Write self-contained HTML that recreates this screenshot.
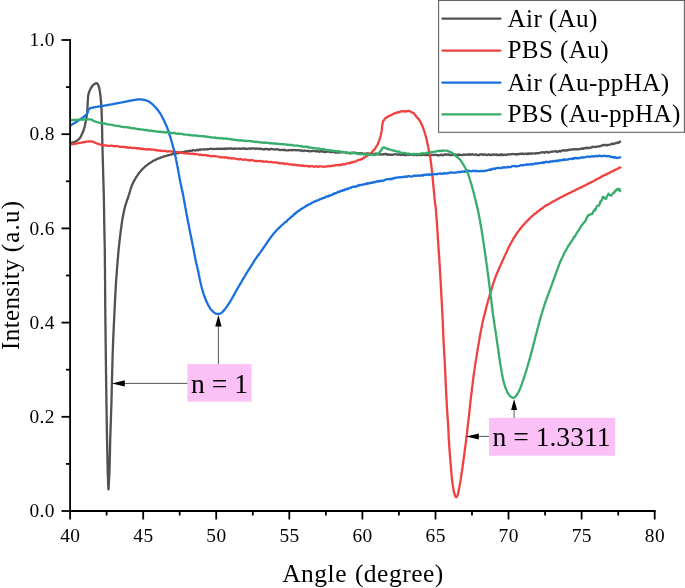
<!DOCTYPE html><html><head><meta charset="utf-8"><title>SPR</title><style>html,body{margin:0;padding:0;background:#fff;overflow:hidden}svg{display:block}text{font-family:"Liberation Serif","Times New Roman",serif;fill:#000}</style></head><body>
<svg width="685" height="588" viewBox="0 0 685 588">
<rect width="685" height="588" fill="#fff"/>
<path d="M70.0 143.2L71.0 142.9 72.0 142.7 73.0 142.4 74.0 142.1 75.0 141.7 75.9 141.2 76.9 140.7 77.7 140.1 78.6 139.5 79.3 138.8 79.9 138.1 80.4 137.3 80.8 136.5 81.2 135.7 81.6 134.8 82.0 134.0 82.4 133.1 82.8 132.2 83.2 131.3 83.5 130.4 83.8 129.4 84.1 128.5 84.4 127.5 84.6 126.6 84.9 125.6 85.1 124.6 85.3 123.6 85.5 122.7 85.7 121.7 85.9 120.7 86.1 119.7 86.2 118.8 86.4 117.8 86.6 116.8 86.7 115.8 86.9 114.8 87.0 113.9 87.1 112.9 87.2 111.9 87.3 110.9 87.4 109.9 87.4 108.9 87.5 107.9 87.5 107.0 87.6 106.0 87.6 105.0 87.6 104.0 87.7 103.0 87.8 102.0 87.8 101.0 87.8 100.0 87.9 99.0 88.0 98.0 88.0 97.1 88.2 96.1 88.3 95.1 88.5 94.1 88.8 93.1 89.1 92.1 89.5 91.1 89.9 90.2 90.3 89.3 90.8 88.4 91.3 87.5 91.9 86.6 92.5 85.8 93.2 85.1 94.0 84.4 94.8 83.8 96.3 83.1 97.2 83.6 97.9 84.5 98.3 85.3 98.7 86.2 99.0 87.1 99.2 88.0 99.4 89.0 99.6 90.1 99.8 91.2 100.0 92.2 100.1 93.3 100.2 94.3 100.4 95.3 100.5 96.3 100.6 97.3 100.7 98.3 100.8 99.3 100.9 100.3 101.0 101.3 101.1 102.3 101.1 103.2 101.2 104.2 101.3 105.2 101.3 106.1 101.4 107.1 101.4 108.0 101.5 109.0 101.5 110.0 101.6 110.9 101.6 111.9 101.6 112.8 101.7 113.7 101.7 114.7 101.7 115.6 101.8 116.5 101.8 117.4 101.8 118.4 101.9 119.3 101.9 120.2 101.9 121.1 101.9 122.0 102.0 123.0 102.0 123.9 102.0 124.8 102.0 125.7 102.1 126.7 102.1 127.6 102.1 128.5 102.1 129.4 102.1 130.3 102.2 131.3 102.2 132.2 102.2 133.1 102.2 134.0 102.2 135.0 102.2 135.9 102.2 136.8 102.2 137.7 102.3 138.7 102.3 139.6 102.3 140.5 102.3 141.4 102.3 142.3 102.4 143.2 102.4 144.1 102.4 145.0 102.4 145.9 102.5 146.8 102.5 147.7 102.5 148.6 102.5 149.5 102.5 150.4 102.6 151.3 102.6 152.2 102.6 153.1 102.6 154.0 102.7 154.9 102.7 155.9 102.7 156.8 102.7 157.7 102.8 158.6 102.8 159.5 102.8 160.4 102.8 161.3 102.9 162.2 102.9 163.1 102.9 164.0 102.9 164.9 103.0 165.8 103.0 166.7 103.0 167.6 103.0 168.5 103.1 169.4 103.1 170.3 103.1 171.2 103.1 172.1 103.2 173.0 103.2 173.9 103.2 174.8 103.2 175.7 103.3 176.6 103.3 177.5 103.3 178.4 103.3 179.3 103.4 180.2 103.4 181.1 103.4 182.0 103.5 182.9 103.5 183.8 103.5 184.7 103.5 185.6 103.6 186.5 103.6 187.4 103.6 188.3 103.6 189.2 103.7 190.1 103.7 191.0 103.7 191.9 103.7 192.8 103.8 193.7 103.8 194.6 103.8 195.5 103.8 196.4 103.8 197.3 103.9 198.2 103.9 199.1 103.9 200.0 103.9 200.9 103.9 201.8 103.9 202.7 104.0 203.6 104.0 204.5 104.0 205.4 104.0 206.3 104.0 207.2 104.0 208.1 104.0 209.0 104.1 209.9 104.1 210.8 104.1 211.8 104.1 212.7 104.1 213.6 104.1 214.5 104.1 215.4 104.1 216.3 104.2 217.2 104.2 218.1 104.2 219.0 104.2 219.9 104.2 220.8 104.2 221.7 104.2 222.6 104.3 223.5 104.3 224.4 104.3 225.3 104.3 226.2 104.3 227.1 104.3 228.0 104.4 228.9 104.4 229.8 104.4 230.7 104.4 231.6 104.4 232.5 104.4 233.5 104.5 234.4 104.5 235.3 104.5 236.2 104.5 237.1 104.5 238.0 104.6 238.9 104.6 239.8 104.6 240.7 104.6 241.6 104.6 242.5 104.7 243.4 104.7 244.3 104.7 245.2 104.7 246.2 104.7 247.1 104.7 248.0 104.8 248.9 104.8 249.8 104.8 250.7 104.8 251.6 104.8 252.5 104.8 253.4 104.8 254.3 104.8 255.2 104.8 256.1 104.9 257.1 104.9 258.0 104.9 258.9 104.9 259.8 104.9 260.7 104.9 261.6 104.9 262.5 104.9 263.4 104.9 264.3 104.9 265.3 104.9 266.2 104.9 267.1 105.0 268.0 105.0 268.9 105.0 269.8 105.0 270.7 105.0 271.6 105.0 272.5 105.0 273.4 105.0 274.4 105.0 275.3 105.0 276.2 105.0 277.1 105.0 278.0 105.0 278.9 105.0 279.8 105.1 280.7 105.1 281.6 105.1 282.6 105.1 283.5 105.1 284.4 105.1 285.3 105.1 286.2 105.1 287.1 105.1 288.0 105.1 288.9 105.1 289.8 105.1 290.8 105.1 291.7 105.1 292.6 105.1 293.5 105.2 294.4 105.2 295.3 105.2 296.2 105.2 297.1 105.2 298.0 105.2 298.9 105.2 299.9 105.2 300.8 105.2 301.7 105.2 302.6 105.2 303.5 105.2 304.4 105.2 305.3 105.2 306.2 105.3 307.1 105.3 308.1 105.3 309.0 105.3 309.9 105.3 310.8 105.3 311.7 105.3 312.6 105.3 313.5 105.3 314.4 105.3 315.3 105.3 316.2 105.4 317.1 105.4 318.0 105.4 318.9 105.4 319.8 105.4 320.7 105.4 321.7 105.4 322.6 105.4 323.5 105.4 324.4 105.4 325.3 105.5 326.2 105.5 327.1 105.5 328.0 105.5 328.9 105.5 329.8 105.5 330.7 105.5 331.6 105.5 332.5 105.5 333.4 105.5 334.3 105.6 335.2 105.6 336.1 105.6 337.0 105.6 337.9 105.6 338.8 105.6 339.7 105.6 340.6 105.6 341.6 105.6 342.5 105.7 343.4 105.7 344.3 105.7 345.2 105.7 346.1 105.7 347.0 105.7 347.9 105.7 348.8 105.7 349.7 105.7 350.6 105.8 351.5 105.8 352.4 105.8 353.3 105.8 354.2 105.8 355.1 105.8 356.0 105.8 356.9 105.8 357.8 105.8 358.7 105.9 359.6 105.9 360.5 105.9 361.5 105.9 362.4 105.9 363.3 105.9 364.2 105.9 365.1 105.9 366.0 106.0 366.9 106.0 367.8 106.0 368.7 106.0 369.6 106.0 370.5 106.0 371.4 106.0 372.3 106.0 373.2 106.0 374.1 106.1 375.0 106.1 375.9 106.1 376.8 106.1 377.8 106.1 378.7 106.1 379.6 106.1 380.5 106.1 381.4 106.2 382.3 106.2 383.2 106.2 384.1 106.2 385.0 106.2 385.9 106.2 386.8 106.2 387.7 106.2 388.6 106.3 389.5 106.3 390.4 106.3 391.4 106.3 392.3 106.3 393.2 106.3 394.1 106.3 395.0 106.3 395.9 106.4 396.8 106.4 397.7 106.4 398.6 106.4 399.5 106.4 400.4 106.4 401.3 106.4 402.2 106.4 403.1 106.5 404.0 106.5 404.9 106.5 405.9 106.5 406.8 106.5 407.7 106.5 408.6 106.5 409.5 106.6 410.4 106.6 411.3 106.6 412.2 106.6 413.1 106.6 414.0 106.6 414.9 106.6 415.8 106.7 416.7 106.7 417.6 106.7 418.5 106.7 419.5 106.7 420.4 106.7 421.3 106.7 422.2 106.8 423.1 106.8 424.0 106.8 424.9 106.8 425.8 106.8 426.7 106.8 427.6 106.8 428.5 106.9 429.4 106.9 430.3 106.9 431.2 106.9 432.1 106.9 433.0 106.9 433.9 107.0 434.8 107.0 435.7 107.0 436.6 107.0 437.5 107.0 438.4 107.0 439.3 107.1 440.2 107.1 441.1 107.1 442.0 107.1 442.9 107.1 443.8 107.1 444.7 107.2 445.6 107.2 446.5 107.2 447.4 107.2 448.4 107.2 449.3 107.3 450.2 107.3 451.1 107.3 452.0 107.3 452.9 107.3 453.8 107.4 454.7 107.4 455.6 107.4 456.5 107.4 457.4 107.4 458.3 107.5 459.2 107.5 460.1 107.5 461.0 107.5 461.9 107.5 462.8 107.6 463.7 107.6 464.6 107.6 465.5 107.6 466.4 107.6 467.3 107.7 468.2 107.7 469.1 107.7 470.0 107.7 470.9 107.7 471.8 107.8 472.7 107.8 473.6 107.8 474.5 107.9 475.4 107.9 476.3 107.9 477.3 108.0 478.2 108.0 479.1 108.0 480.0 108.1 480.9 108.1 481.8 108.1 482.7 108.2 483.6 108.2 484.5 108.2 485.6 108.3 486.9 108.4 488.1 108.4 489.0 108.5 489.3 108.6 489.0 108.6 488.1 108.7 486.9 108.7 485.6 108.8 484.5 108.8 483.6 108.9 482.7 108.9 481.8 109.0 480.9 109.0 480.0 109.1 479.1 109.1 478.2 109.2 477.3 109.2 476.3 109.3 475.4 109.3 474.5 109.4 473.6 109.4 472.7 109.4 471.8 109.5 470.9 109.5 470.0 109.5 469.1 109.6 468.2 109.6 467.2 109.6 466.3 109.6 465.4 109.7 464.5 109.7 463.5 109.7 462.6 109.7 461.7 109.7 460.8 109.8 459.9 109.8 458.9 109.8 458.0 109.8 457.1 109.9 456.2 109.9 455.2 109.9 454.3 109.9 453.4 109.9 452.5 110.0 451.6 110.0 450.6 110.0 449.7 110.0 448.8 110.0 447.9 110.0 446.9 110.1 446.0 110.1 445.1 110.1 444.2 110.1 443.3 110.2 442.3 110.2 441.4 110.2 440.5 110.2 439.6 110.2 438.6 110.3 437.7 110.3 436.8 110.3 435.9 110.4 435.0 110.4 434.0 110.4 433.1 110.4 432.2 110.5 431.3 110.5 430.4 110.5 429.4 110.6 428.5 110.6 427.6 110.6 426.7 110.7 425.8 110.7 424.8 110.7 423.9 110.8 423.0 110.8 422.1 110.8 421.2 110.9 420.2 110.9 419.3 110.9 418.4 110.9 417.5 111.0 416.6 111.0 415.7 111.0 414.7 111.1 413.8 111.1 412.9 111.1 412.0 111.2 411.1 111.2 410.1 111.2 409.2 111.3 408.3 111.3 407.4 111.3 406.5 111.3 405.5 111.4 404.6 111.4 403.7 111.4 402.8 111.5 401.9 111.5 400.9 111.5 400.0 111.5 399.1 111.5 398.2 111.6 397.2 111.6 396.3 111.6 395.4 111.6 394.5 111.7 393.6 111.7 392.6 111.7 391.7 111.7 390.8 111.7 389.9 111.8 388.9 111.8 388.0 111.8 387.1 111.8 386.2 111.8 385.3 111.9 384.3 111.9 383.4 111.9 382.5 111.9 381.6 111.9 380.6 112.0 379.7 112.0 378.8 112.0 377.9 112.0 377.0 112.1 376.0 112.1 375.1 112.1 374.2 112.1 373.3 112.2 372.3 112.2 371.4 112.2 370.5 112.2 369.6 112.3 368.7 112.3 367.8 112.3 366.9 112.3 366.0 112.4 365.0 112.4 364.1 112.4 363.2 112.4 362.3 112.5 361.4 112.5 360.5 112.5 359.6 112.5 358.7 112.6 357.8 112.6 356.9 112.6 355.9 112.7 355.0 112.7 354.1 112.7 353.2 112.7 352.3 112.8 351.4 112.8 350.5 112.8 349.6 112.9 348.7 112.9 347.8 112.9 346.8 113.0 345.9 113.0 345.0 113.0 344.1 113.1 343.2 113.1 342.3 113.1 341.4 113.2 340.5 113.2 339.6 113.2 338.7 113.3 337.8 113.3 336.9 113.4 336.0 113.4 335.1 113.4 334.2 113.5 333.3 113.5 332.4 113.6 331.5 113.6 330.6 113.6 329.7 113.7 328.8 113.7 327.9 113.8 327.0 113.8 326.1 113.8 325.2 113.9 324.3 113.9 323.4 114.0 322.5 114.0 321.6 114.1 320.7 114.1 319.8 114.1 318.9 114.2 318.0 114.2 317.1 114.3 316.2 114.3 315.3 114.4 314.4 114.4 313.5 114.5 312.6 114.5 311.7 114.5 310.8 114.6 309.9 114.6 309.0 114.7 308.1 114.7 307.2 114.8 306.3 114.8 305.4 114.8 304.5 114.9 303.6 114.9 302.7 115.0 301.8 115.0 300.9 115.1 300.0 115.1 299.1 115.1 298.2 115.2 297.3 115.2 296.4 115.3 295.5 115.3 294.6 115.4 293.7 115.4 292.8 115.5 291.9 115.5 291.0 115.6 290.1 115.6 289.2 115.7 288.3 115.7 287.4 115.8 286.5 115.8 285.6 115.9 284.7 115.9 283.8 116.0 282.9 116.0 282.0 116.1 281.1 116.2 280.2 116.2 279.3 116.3 278.3 116.4 277.4 116.4 276.5 116.5 275.6 116.6 274.7 116.6 273.7 116.7 272.8 116.8 271.9 116.8 271.0 116.9 270.1 117.0 269.1 117.1 268.2 117.1 267.3 117.2 266.4 117.3 265.5 117.4 264.5 117.4 263.6 117.5 262.7 117.6 261.8 117.7 260.9 117.7 259.9 117.8 259.0 117.9 258.1 118.0 257.2 118.1 256.3 118.1 255.3 118.2 254.4 118.3 253.5 118.4 252.6 118.5 251.7 118.5 250.7 118.6 249.8 118.7 248.9 118.8 248.0 118.9 247.0 119.0 246.1 119.1 245.2 119.2 244.3 119.3 243.3 119.4 242.4 119.5 241.5 119.6 240.6 119.7 239.6 119.8 238.7 119.9 237.7 120.0 236.8 120.2 235.8 120.3 234.9 120.4 233.9 120.5 233.0 120.6 232.0 120.7 231.1 120.9 230.1 121.0 229.2 121.1 228.2 121.3 227.3 121.4 226.3 121.5 225.4 121.6 224.4 121.8 223.5 121.9 222.5 122.1 221.6 122.2 220.6 122.3 219.7 122.5 218.7 122.7 217.8 122.8 216.8 123.0 215.9 123.2 215.0 123.4 214.0 123.6 213.1 123.8 212.1 124.0 211.2 124.2 210.3 124.4 209.3 124.6 208.4 124.9 207.5 125.1 206.5 125.3 205.6 125.6 204.7 125.9 203.8 126.2 202.8 126.5 201.9 126.8 201.0 127.1 200.1 127.4 199.2 127.8 198.3 128.1 197.3 128.4 196.4 128.7 195.5 129.0 194.6 129.2 193.8 129.5 192.9 129.8 192.0 130.0 191.1 130.3 190.3 130.5 189.4 130.8 188.5 131.1 187.7 131.4 186.8 131.7 185.9 132.1 185.0 132.5 184.1 132.9 183.2 133.3 182.3 133.8 181.4 134.3 180.6 134.7 179.7 135.2 178.9 135.7 178.0 136.2 177.2 136.7 176.4 137.3 175.6 137.8 174.8 138.3 174.0 138.9 173.2 139.5 172.4 140.1 171.7 140.7 171.0 141.3 170.3 142.0 169.6 142.6 168.9 143.3 168.3 144.0 167.6 144.7 167.0 145.4 166.3 146.1 165.7 146.8 165.2 147.6 164.6 148.3 164.0 149.1 163.5 149.9 162.9 150.8 162.4 151.7 161.9 152.5 161.3 153.4 160.8 154.3 160.4 155.2 159.9 156.1 159.5 156.9 159.1 157.8 158.7 158.7 158.4 159.6 158.1 160.5 157.7 161.4 157.4 162.3 157.1 163.3 156.7 164.2 156.4 165.1 156.1 166.1 155.8 167.0 155.5 168.0 155.3 168.9 155.1 169.8 154.9 170.8 154.7 171.7 154.4 172.6 154.2 173.5 154.1 174.4 153.9 175.4 153.7 176.3 153.5 177.2 153.3 178.1 153.1 179.1 153.0 180.0 152.7 180.9 152.4 181.8 152.6 182.7 151.9 183.6 152.1 184.5 151.8 185.4 151.4 186.3 151.6 187.2 151.1 188.1 151.2 189.0 150.8 189.9 150.6 190.8 150.8 191.8 150.9 192.7 150.2 193.6 150.2 194.5 150.4 195.4 150.6 196.3 150.2 197.2 149.9 198.1 150.3 199.0 149.5 199.9 150.1 200.8 149.5 201.7 149.4 202.6 149.3 203.5 149.4 204.4 149.7 205.3 149.1 206.3 149.4 207.2 149.4 208.1 149.1 209.0 149.2 209.9 148.8 210.8 148.7 211.7 148.8 212.6 149.2 213.5 148.9 214.4 148.8 215.3 149.0 216.2 148.8 217.2 148.7 218.1 149.0 219.0 148.9 219.9 148.6 220.8 148.8 221.7 148.7 222.6 149.0 223.5 148.9 224.4 148.5 225.4 149.0 226.3 148.3 227.2 148.6 228.1 148.8 229.0 148.3 230.0 148.6 230.9 148.2 231.8 148.7 232.7 148.8 233.7 148.6 234.6 148.9 235.5 148.4 236.4 148.7 237.3 148.6 238.3 148.6 239.2 148.5 240.1 148.8 241.0 148.9 241.9 148.5 242.9 148.7 243.8 148.2 244.7 148.8 245.6 148.7 246.5 149.0 247.5 148.9 248.4 148.5 249.3 148.6 250.2 148.8 251.2 148.3 252.1 148.7 253.0 148.4 253.9 148.4 254.8 148.4 255.8 149.0 256.7 148.5 257.6 148.6 258.5 148.7 259.4 149.1 260.3 148.5 261.2 148.9 262.1 149.0 263.0 149.3 263.9 149.2 264.8 149.3 265.7 148.9 266.6 149.0 267.5 149.0 268.4 149.5 269.3 149.6 270.2 149.0 271.1 149.0 272.0 149.1 272.9 149.2 273.8 149.4 274.7 149.5 275.6 149.3 276.5 149.2 277.4 149.5 278.3 149.5 279.2 149.7 280.1 150.1 281.0 149.9 281.9 149.8 282.8 150.0 283.7 150.1 284.6 149.6 285.5 150.3 286.4 150.3 287.3 150.4 288.2 150.4 289.1 150.1 290.0 150.1 290.9 149.9 291.8 150.4 292.7 150.0 293.6 150.0 294.5 150.2 295.4 150.2 296.3 150.3 297.3 150.2 298.2 150.1 299.1 150.3 300.0 150.3 300.9 150.6 301.8 150.3 302.7 151.0 303.6 150.9 304.5 150.5 305.4 150.7 306.3 150.8 307.2 150.8 308.1 150.7 309.0 151.3 309.9 151.4 310.8 151.1 311.8 151.1 312.7 150.8 313.6 150.9 314.5 151.1 315.4 151.1 316.3 151.6 317.2 151.1 318.1 151.0 319.0 151.8 319.9 151.5 320.8 151.2 321.7 151.6 322.6 151.2 323.5 151.6 324.4 152.0 325.3 152.0 326.3 151.9 327.2 151.6 328.1 151.7 329.0 151.6 329.9 152.1 330.8 152.0 331.7 152.2 332.6 151.8 333.5 151.8 334.4 152.4 335.3 152.6 336.2 152.5 337.2 152.5 338.1 152.6 339.0 152.5 339.9 152.0 340.8 152.4 341.7 152.2 342.6 152.0 343.5 152.0 344.4 152.3 345.4 152.3 346.3 152.8 347.2 153.1 348.1 152.6 349.0 153.2 349.9 153.3 350.8 153.3 351.7 152.7 352.6 152.6 353.5 152.7 354.5 152.7 355.4 152.7 356.3 153.2 357.2 153.5 358.1 153.5 359.0 153.2 359.9 153.4 360.8 153.6 361.7 152.9 362.7 153.5 363.6 153.8 364.5 153.7 365.4 153.7 366.3 153.5 367.2 153.3 368.1 153.9 369.0 153.5 369.9 154.0 370.8 154.2 371.8 153.7 372.7 153.7 373.6 154.3 374.5 154.1 375.4 153.6 376.3 153.6 377.2 153.7 378.1 154.5 379.0 154.4 380.0 153.8 380.9 154.5 381.8 154.7 382.7 154.4 383.6 154.1 384.5 154.3 385.4 153.9 386.3 153.9 387.2 154.8 388.2 154.6 389.1 154.5 390.0 154.9 390.9 154.4 391.8 154.9 392.7 154.9 393.6 154.3 394.5 154.3 395.4 154.4 396.4 154.4 397.3 154.7 398.2 154.4 399.1 154.6 400.0 154.3 400.9 155.1 401.8 154.6 402.7 154.7 403.6 154.8 404.5 155.2 405.5 154.7 406.4 155.2 407.3 154.8 408.2 154.9 409.1 154.9 410.0 154.4 410.9 154.8 411.8 154.5 412.7 154.4 413.6 155.2 414.5 154.6 415.5 154.9 416.4 155.1 417.3 155.0 418.2 154.7 419.1 154.9 420.0 155.0 420.9 155.2 421.8 154.5 422.7 155.0 423.6 154.7 424.5 154.7 425.5 155.2 426.4 154.9 427.3 155.0 428.2 155.2 429.1 155.3 430.0 154.9 430.9 155.0 431.8 154.9 432.7 154.9 433.6 155.1 434.5 154.9 435.5 154.9 436.4 154.9 437.3 155.3 438.2 155.1 439.1 155.3 440.0 155.3 440.9 154.6 441.8 154.9 442.7 155.3 443.6 155.2 444.5 154.5 445.5 154.5 446.4 154.8 447.3 154.4 448.2 154.6 449.1 154.4 450.0 155.0 450.9 155.1 451.8 155.2 452.7 154.5 453.6 155.0 454.5 155.0 455.5 154.4 456.4 155.2 457.3 155.3 458.2 154.5 459.1 155.2 460.0 154.7 460.9 154.8 461.8 155.2 462.7 155.1 463.6 154.4 464.5 154.7 465.5 154.8 466.4 154.6 467.3 154.4 468.2 154.5 469.1 154.9 470.0 154.2 470.9 154.8 471.8 154.7 472.7 154.2 473.6 154.5 474.5 154.8 475.5 154.7 476.4 154.3 477.3 155.2 478.2 155.0 479.1 155.2 480.0 154.3 480.9 154.5 481.8 154.2 482.7 155.0 483.6 154.5 484.5 154.3 485.4 154.6 486.3 155.1 487.3 155.1 488.2 154.5 489.1 154.4 490.0 155.2 490.9 154.8 491.8 155.0 492.7 154.4 493.6 154.3 494.5 155.0 495.4 154.7 496.3 154.4 497.2 155.2 498.1 154.9 499.0 155.1 500.0 154.4 500.9 155.1 501.8 154.3 502.7 155.1 503.6 154.7 504.5 154.6 505.4 154.8 506.3 155.1 507.2 154.4 508.1 154.3 509.0 154.7 509.9 154.3 510.8 154.2 511.7 154.2 512.7 154.0 513.6 154.2 514.5 154.2 515.4 154.2 516.3 154.6 517.2 154.1 518.1 154.3 519.0 153.9 519.9 154.0 520.8 153.6 521.7 153.8 522.6 153.5 523.5 154.2 524.4 154.0 525.4 153.5 526.3 153.8 527.2 154.2 528.1 153.3 529.0 154.0 529.9 153.5 530.8 153.5 531.7 153.8 532.6 153.3 533.5 153.3 534.4 153.5 535.3 153.7 536.2 153.0 537.1 153.4 538.0 153.2 538.9 153.1 539.8 152.8 540.7 152.7 541.6 152.3 542.5 152.3 543.4 152.2 544.4 152.8 545.3 152.2 546.2 152.0 547.1 151.9 548.0 152.6 548.9 152.5 549.8 152.2 550.7 151.8 551.6 151.6 552.5 151.6 553.4 151.7 554.3 151.3 555.2 151.5 556.1 151.2 557.0 151.8 557.9 151.8 558.8 151.2 559.7 150.9 560.6 151.5 561.5 150.7 562.4 150.7 563.3 150.2 564.2 150.5 565.2 150.5 566.1 150.5 567.0 150.1 567.9 150.3 568.8 149.7 569.7 149.8 570.6 149.5 571.5 149.7 572.4 149.3 573.3 149.2 574.2 149.3 575.1 149.2 576.0 149.4 576.9 149.2 577.9 149.4 578.8 149.2 579.7 149.1 580.6 149.2 581.5 148.5 582.4 148.4 583.3 148.9 584.2 148.0 585.1 148.4 586.0 148.2 587.0 147.5 587.9 148.1 588.8 148.1 589.8 147.7 590.7 147.6 591.6 147.5 592.6 146.7 593.5 147.0 594.4 146.8 595.3 147.0 596.3 146.8 597.2 146.7 598.1 146.3 599.1 146.4 600.0 146.1 601.0 146.0 602.0 145.4 602.9 145.1 603.9 145.0 604.9 145.1 605.9 144.8 606.9 145.4 607.8 144.9 608.8 144.8 609.7 144.7 610.6 144.5 611.4 144.1 612.3 143.5 613.2 144.1 614.1 143.8 615.0 143.4 615.8 143.2 616.7 143.1 617.6 142.3 618.5 142.8 619.3 142.1 620.2 141.7 621.1 141.7" fill="none" stroke="#515151" stroke-width="2.3" stroke-linejoin="round" stroke-linecap="butt"/>
<path d="M70.0 144.6L70.9 144.4 71.8 144.3 72.7 144.1 73.7 144.0 74.6 143.8 75.5 143.6 76.4 143.5 77.3 143.3 78.2 143.1 79.2 143.0 80.1 142.8 81.0 142.7 81.9 142.5 82.9 142.4 83.8 142.2 84.7 142.0 85.6 141.9 86.6 141.7 87.5 141.6 88.4 141.5 89.4 141.4 90.3 141.3 91.2 141.3 92.2 141.5 93.1 141.8 94.1 142.3 95.0 142.7 95.9 143.0 96.7 143.3 97.6 143.6 98.5 144.0 99.3 144.3 100.2 144.7 101.1 144.6 102.0 145.2 103.0 145.5 104.0 145.3 105.1 145.3 106.1 145.4 107.2 145.6 108.2 145.8 109.1 145.8 110.0 145.9 110.9 145.6 111.8 145.7 112.7 145.8 113.7 146.3 114.6 146.0 115.5 146.3 116.4 146.0 117.3 146.1 118.2 146.3 119.1 146.7 120.0 146.8 120.9 146.9 121.8 146.7 122.7 146.9 123.6 147.0 124.6 147.1 125.5 146.9 126.4 147.5 127.3 147.1 128.2 147.8 129.1 147.8 130.0 147.3 130.9 147.7 131.8 148.0 132.7 148.2 133.6 147.9 134.6 147.9 135.5 147.9 136.4 148.5 137.3 148.1 138.2 148.5 139.1 148.2 140.0 148.6 140.9 149.0 141.8 148.5 142.7 149.1 143.7 148.9 144.6 149.3 145.5 149.3 146.4 149.0 147.3 149.6 148.2 149.4 149.1 149.1 150.0 149.2 150.9 149.7 151.8 149.7 152.8 149.7 153.7 149.7 154.6 149.9 155.5 150.0 156.4 150.4 157.3 149.9 158.2 150.6 159.1 150.7 160.0 150.3 160.9 150.9 161.8 150.9 162.8 151.1 163.7 150.8 164.6 150.9 165.5 151.0 166.4 151.5 167.3 151.3 168.2 151.2 169.1 151.4 170.0 151.3 170.9 151.3 171.8 151.4 172.7 152.0 173.6 151.7 174.6 152.3 175.5 151.9 176.4 152.0 177.3 152.2 178.2 152.1 179.1 152.3 180.0 152.8 180.9 152.9 181.9 152.9 182.8 152.9 183.7 153.2 184.6 153.3 185.6 153.1 186.5 153.4 187.4 153.0 188.3 153.6 189.3 153.5 190.2 153.8 191.1 153.8 192.0 153.7 193.0 153.6 193.9 154.3 194.8 153.9 195.7 154.2 196.7 154.2 197.6 154.3 198.5 154.7 199.4 155.0 200.4 154.6 201.3 155.0 202.2 154.8 203.1 155.1 204.1 155.1 205.0 155.1 205.9 155.2 206.8 155.3 207.7 155.9 208.6 155.7 209.5 155.6 210.4 156.2 211.3 156.4 212.2 156.1 213.1 156.0 214.0 156.1 214.9 156.1 215.8 156.4 216.7 156.3 217.6 156.5 218.5 156.7 219.4 157.0 220.3 157.3 221.2 157.3 222.1 157.2 223.0 157.3 223.9 157.5 224.8 157.4 225.7 157.5 226.6 157.4 227.5 157.7 228.4 158.3 229.3 157.8 230.2 158.1 231.1 158.3 232.0 158.6 232.9 158.2 233.8 158.4 234.7 158.5 235.6 158.7 236.5 158.8 237.4 159.2 238.3 159.3 239.2 159.4 240.1 158.9 241.0 159.0 241.9 159.5 242.8 159.8 243.7 159.6 244.6 159.7 245.5 159.4 246.4 159.8 247.4 160.2 248.3 160.2 249.2 160.4 250.1 160.5 251.0 160.1 251.9 160.1 252.8 160.2 253.7 160.6 254.6 160.8 255.5 161.0 256.4 161.0 257.3 161.0 258.2 161.2 259.1 161.0 260.1 161.2 261.0 160.9 261.9 161.5 262.8 161.2 263.7 161.8 264.6 161.7 265.5 161.5 266.4 161.5 267.3 161.7 268.2 162.0 269.1 162.2 270.0 161.8 270.9 161.9 271.8 162.3 272.7 162.4 273.7 162.4 274.6 162.4 275.5 162.7 276.4 162.4 277.3 162.7 278.2 162.9 279.1 163.3 280.0 163.2 280.9 163.5 281.8 163.3 282.8 163.2 283.7 163.3 284.6 164.0 285.5 163.9 286.4 163.7 287.4 163.7 288.3 164.1 289.2 164.4 290.1 164.3 291.0 164.3 292.0 164.7 292.9 165.0 293.8 164.6 294.7 164.6 295.7 164.9 296.6 165.1 297.5 165.3 298.4 165.1 299.3 165.6 300.2 165.6 301.1 165.5 302.1 165.4 303.0 166.0 303.9 165.7 304.8 166.1 305.7 165.8 306.6 165.8 307.5 166.3 308.5 166.0 309.4 166.6 310.3 166.3 311.2 166.1 312.1 166.2 313.0 166.4 313.9 166.6 314.8 166.8 315.8 166.3 316.7 166.5 317.6 166.4 318.5 166.9 319.4 166.3 320.3 166.3 321.3 166.3 322.2 166.5 323.1 166.8 324.0 166.7 324.9 166.6 325.9 166.7 326.8 166.6 327.7 166.1 328.6 166.0 329.6 166.4 330.5 166.2 331.4 165.6 332.3 166.0 333.2 165.7 334.1 165.6 335.1 165.4 336.0 165.2 336.9 165.0 337.8 165.0 338.7 165.0 339.7 165.3 340.6 164.5 341.6 165.0 342.5 164.3 343.4 164.2 344.4 164.4 345.3 164.2 346.2 163.8 347.2 163.3 348.1 163.4 349.0 163.1 349.9 163.3 350.9 162.5 351.8 162.4 352.7 162.5 353.6 161.7 354.5 161.7 355.4 161.7 356.3 161.3 357.2 160.5 358.1 160.1 359.0 159.8 359.9 160.0 360.7 159.2 361.6 159.1 362.4 158.8 363.3 157.9 364.1 157.4 364.9 157.5 365.7 156.8 366.5 156.0 367.2 155.9 368.0 155.1 368.7 154.5 369.5 153.8 370.2 153.8 370.9 153.3 371.6 152.5 372.3 152.1 372.9 150.9 373.5 150.3 374.1 149.8 374.7 149.4 375.3 148.3 375.8 147.5 376.3 146.7 376.8 145.8 377.3 145.0 377.7 144.2 378.1 143.3 378.5 142.5 378.8 141.6 379.1 140.8 379.4 139.9 379.7 139.0 380.0 138.1 380.2 137.3 380.4 136.4 380.7 135.5 380.9 134.6 381.1 133.7 381.3 132.8 381.5 131.8 381.7 130.9 381.8 129.9 381.9 128.9 382.0 127.9 382.1 126.9 382.2 126.0 382.3 125.0 382.5 124.0 382.7 123.1 382.8 122.2 383.1 121.3 383.5 120.5 384.0 120.2 384.6 119.0 385.3 118.3 386.0 117.8 386.7 117.3 387.5 117.1 388.3 116.1 389.2 116.1 390.0 115.6 390.9 115.3 391.8 114.8 392.7 114.3 393.6 113.7 394.5 113.4 395.4 113.1 396.3 113.1 397.2 112.3 398.2 112.1 399.2 112.3 400.1 111.7 401.1 111.4 402.1 111.2 403.0 111.4 404.0 111.1 405.0 111.5 406.0 111.3 407.1 111.4 408.1 110.9 409.1 111.0 410.2 111.3 411.2 112.0 412.3 112.6 413.2 113.0 414.0 113.5 414.7 114.4 415.4 115.3 416.1 116.2 416.8 117.1 417.4 117.9 418.1 118.6 418.7 118.9 419.3 120.3 419.8 120.7 420.3 121.8 420.8 122.4 421.2 123.6 421.6 124.0 422.0 125.1 422.4 126.0 422.8 126.9 423.1 127.8 423.4 128.7 423.7 129.6 424.0 130.5 424.3 131.4 424.6 132.3 424.9 133.2 425.2 134.1 425.4 135.0 425.7 135.9 425.9 136.8 426.1 137.7 426.4 138.7 426.6 139.6 426.8 140.5 427.0 141.4 427.2 142.3 427.4 143.2 427.6 144.1 427.8 145.0 428.0 145.9 428.2 146.8 428.3 147.7 428.5 148.6 428.7 149.5 428.9 150.5 429.1 151.5 429.3 152.5 429.6 153.5 429.8 154.5 429.9 155.5 430.1 156.5 430.2 157.4 430.4 158.3 430.5 159.2 430.6 160.1 430.7 161.0 430.8 161.9 431.0 162.7 431.1 163.6 431.2 164.5 431.3 165.4 431.4 166.3 431.5 167.2 431.6 168.1 431.7 169.0 431.8 169.9 431.9 170.8 432.0 171.7 432.1 172.6 432.2 173.5 432.3 174.4 432.4 175.3 432.5 176.2 432.5 177.1 432.6 178.0 432.7 179.0 432.8 179.9 432.9 180.8 433.0 181.7 433.1 182.6 433.1 183.5 433.2 184.4 433.3 185.3 433.4 186.2 433.5 187.1 433.6 188.0 433.7 188.9 433.7 189.8 433.8 190.7 433.9 191.6 434.0 192.5 434.1 193.4 434.2 194.3 434.3 195.2 434.4 196.1 434.4 197.0 434.5 197.9 434.6 198.8 434.7 199.7 434.8 200.6 434.9 201.5 435.0 202.4 435.1 203.3 435.2 204.2 435.4 205.1 435.5 206.0 435.6 206.9 435.7 207.8 435.8 208.7 435.9 209.6 436.0 210.5 436.1 211.4 436.1 212.3 436.2 213.2 436.3 214.1 436.3 215.0 436.4 215.9 436.5 216.8 436.5 217.7 436.6 218.6 436.7 219.5 436.7 220.4 436.8 221.3 436.9 222.2 436.9 223.1 437.0 224.0 437.0 224.9 437.1 225.8 437.2 226.7 437.2 227.7 437.3 228.6 437.3 229.5 437.4 230.4 437.5 231.3 437.5 232.2 437.6 233.1 437.6 234.0 437.7 234.9 437.7 235.8 437.8 236.7 437.9 237.6 437.9 238.5 438.0 239.4 438.0 240.3 438.1 241.2 438.2 242.1 438.2 243.0 438.3 243.9 438.3 244.9 438.4 245.8 438.5 246.7 438.5 247.6 438.6 248.5 438.6 249.4 438.7 250.4 438.8 251.3 438.8 252.2 438.9 253.1 439.0 254.0 439.0 254.9 439.1 255.8 439.1 256.8 439.2 257.7 439.3 258.6 439.3 259.5 439.4 260.4 439.4 261.3 439.5 262.3 439.5 263.2 439.6 264.1 439.7 265.0 439.7 265.9 439.8 266.8 439.8 267.8 439.9 268.7 439.9 269.6 440.0 270.5 440.1 271.4 440.1 272.3 440.2 273.2 440.2 274.1 440.3 275.0 440.3 276.0 440.4 276.9 440.4 277.8 440.5 278.7 440.5 279.6 440.6 280.5 440.6 281.4 440.7 282.3 440.7 283.2 440.8 284.1 440.8 285.0 440.9 286.0 440.9 286.9 441.0 287.8 441.0 288.7 441.1 289.6 441.1 290.5 441.2 291.4 441.2 292.3 441.3 293.2 441.3 294.1 441.4 295.0 441.4 296.0 441.5 296.9 441.5 297.8 441.6 298.7 441.6 299.6 441.7 300.5 441.7 301.4 441.8 302.3 441.8 303.2 441.9 304.1 441.9 305.0 442.0 306.0 442.0 306.9 442.1 307.8 442.1 308.7 442.2 309.6 442.2 310.5 442.2 311.4 442.3 312.3 442.3 313.2 442.4 314.1 442.4 315.0 442.5 315.9 442.5 316.8 442.5 317.7 442.6 318.6 442.6 319.5 442.7 320.4 442.7 321.3 442.7 322.2 442.8 323.1 442.8 324.0 442.9 324.9 442.9 325.8 442.9 326.8 443.0 327.7 443.0 328.6 443.1 329.5 443.1 330.4 443.1 331.3 443.2 332.2 443.2 333.1 443.3 334.0 443.3 334.9 443.3 335.8 443.4 336.7 443.4 337.6 443.5 338.5 443.5 339.4 443.6 340.3 443.6 341.2 443.6 342.1 443.7 343.0 443.7 343.9 443.8 344.8 443.8 345.7 443.9 346.6 443.9 347.5 444.0 348.4 444.0 349.3 444.1 350.2 444.1 351.1 444.2 352.0 444.2 352.9 444.3 353.8 444.3 354.7 444.4 355.6 444.4 356.5 444.5 357.4 444.5 358.3 444.6 359.2 444.6 360.1 444.7 361.0 444.7 361.9 444.8 362.8 444.8 363.7 444.9 364.6 444.9 365.5 444.9 366.4 445.0 367.3 445.0 368.2 445.1 369.1 445.1 370.1 445.2 371.0 445.2 371.9 445.3 372.8 445.3 373.7 445.3 374.6 445.4 375.5 445.4 376.4 445.5 377.3 445.5 378.2 445.5 379.2 445.6 380.1 445.6 381.0 445.7 381.9 445.7 382.8 445.8 383.7 445.8 384.6 445.8 385.5 445.9 386.4 445.9 387.4 446.0 388.3 446.0 389.2 446.1 390.1 446.1 391.0 446.1 391.9 446.2 392.9 446.2 393.8 446.3 394.7 446.3 395.7 446.4 396.6 446.4 397.5 446.5 398.5 446.5 399.4 446.6 400.3 446.6 401.3 446.7 402.2 446.7 403.1 446.8 404.0 446.8 405.0 446.9 405.9 446.9 406.8 447.0 407.8 447.0 408.7 447.1 409.6 447.1 410.6 447.2 411.5 447.3 412.4 447.3 413.4 447.4 414.3 447.5 415.2 447.5 416.2 447.6 417.1 447.7 418.0 447.7 419.0 447.8 419.9 447.9 420.8 448.0 421.8 448.0 422.7 448.1 423.6 448.1 424.6 448.2 425.5 448.3 426.4 448.3 427.4 448.3 428.3 448.4 429.2 448.4 430.2 448.5 431.1 448.5 432.1 448.5 433.0 448.6 433.9 448.6 434.9 448.7 435.8 448.7 436.8 448.7 437.7 448.8 438.6 448.8 439.6 448.9 440.5 449.0 441.4 449.0 442.4 449.1 443.3 449.1 444.2 449.2 445.1 449.3 446.1 449.3 447.0 449.4 447.9 449.5 448.8 449.5 449.8 449.6 450.7 449.7 451.6 449.7 452.6 449.8 453.5 449.9 454.4 450.0 455.3 450.0 456.3 450.1 457.2 450.2 458.1 450.3 459.0 450.3 460.0 450.4 460.9 450.5 461.8 450.5 462.7 450.6 463.7 450.7 464.6 450.8 465.5 450.8 466.4 450.9 467.3 451.0 468.3 451.1 469.2 451.1 470.1 451.2 471.0 451.3 471.9 451.4 472.9 451.5 473.8 451.5 474.7 451.6 475.6 451.7 476.5 451.8 477.5 451.9 478.4 452.0 479.3 452.1 480.2 452.2 481.2 452.3 482.1 452.5 483.1 452.6 484.0 452.7 484.9 452.9 485.9 453.0 486.8 453.2 487.7 453.3 488.7 453.5 489.6 453.7 490.6 453.9 491.7 454.1 492.7 454.4 493.7 454.7 494.7 455.0 495.7 455.6 496.7 456.3 497.2 457.0 496.4 457.6 495.2 457.9 494.3 458.1 493.3 458.3 492.4 458.5 491.4 458.7 490.4 458.9 489.5 459.1 488.5 459.3 487.6 459.4 486.7 459.6 485.7 459.8 484.8 459.9 483.9 460.1 483.0 460.3 482.1 460.4 481.1 460.6 480.2 460.7 479.3 460.9 478.4 461.0 477.4 461.1 476.5 461.3 475.5 461.4 474.6 461.6 473.6 461.7 472.7 461.9 471.7 462.0 470.8 462.2 469.8 462.3 468.9 462.4 467.9 462.6 467.0 462.7 466.0 462.8 465.1 463.0 464.1 463.1 463.2 463.2 462.3 463.3 461.3 463.5 460.4 463.6 459.4 463.7 458.5 463.8 457.6 464.0 456.6 464.1 455.7 464.2 454.8 464.3 453.8 464.5 452.9 464.6 451.9 464.7 451.0 464.8 450.0 465.0 449.1 465.1 448.1 465.2 447.2 465.3 446.2 465.5 445.3 465.6 444.3 465.7 443.3 465.8 442.4 466.0 441.4 466.1 440.5 466.2 439.5 466.3 438.6 466.4 437.7 466.5 436.7 466.6 435.8 466.8 434.9 466.9 434.0 467.0 433.0 467.1 432.1 467.2 431.2 467.3 430.3 467.4 429.3 467.5 428.4 467.6 427.5 467.7 426.6 467.8 425.7 467.9 424.7 468.0 423.8 468.1 422.9 468.3 422.0 468.4 421.0 468.5 420.1 468.6 419.2 468.7 418.3 468.8 417.3 468.9 416.4 469.0 415.5 469.1 414.6 469.2 413.6 469.3 412.7 469.4 411.8 469.5 410.8 469.6 409.9 469.7 409.0 469.8 408.0 469.9 407.1 470.0 406.2 470.1 405.2 470.2 404.3 470.3 403.4 470.4 402.4 470.5 401.5 470.6 400.6 470.7 399.6 470.8 398.7 470.9 397.8 471.0 396.8 471.1 395.9 471.2 395.0 471.4 394.1 471.5 393.1 471.6 392.2 471.7 391.3 471.8 390.3 471.9 389.4 472.0 388.5 472.1 387.5 472.2 386.6 472.4 385.7 472.5 384.8 472.6 383.8 472.7 382.9 472.8 382.0 472.9 381.1 473.0 380.2 473.2 379.3 473.3 378.4 473.4 377.5 473.5 376.6 473.7 375.6 473.8 374.7 473.9 373.8 474.0 372.9 474.2 372.0 474.3 371.1 474.4 370.2 474.5 369.3 474.7 368.4 474.8 367.5 474.9 366.6 475.1 365.7 475.2 364.7 475.3 363.8 475.5 362.9 475.6 362.0 475.8 361.1 475.9 360.2 476.1 359.2 476.2 358.3 476.4 357.4 476.5 356.5 476.7 355.5 476.8 354.6 477.0 353.6 477.1 352.7 477.3 351.7 477.4 350.7 477.6 349.8 477.8 348.8 477.9 347.9 478.1 346.9 478.2 346.0 478.4 345.0 478.6 344.1 478.7 343.2 478.9 342.2 479.0 341.3 479.2 340.4 479.3 339.5 479.5 338.5 479.7 337.6 479.8 336.7 480.0 335.8 480.2 334.8 480.3 333.9 480.5 333.0 480.7 332.1 480.8 331.2 481.0 330.3 481.2 329.5 481.3 328.6 481.5 327.7 481.7 326.8 481.9 325.9 482.0 325.0 482.2 324.1 482.4 323.3 482.6 322.4 482.8 321.5 483.0 320.5 483.2 319.6 483.5 318.6 483.7 317.7 484.0 316.7 484.2 315.8 484.5 314.8 484.7 313.9 485.0 312.9 485.2 312.0 485.4 311.1 485.7 310.1 485.9 309.2 486.1 308.2 486.3 307.3 486.6 306.3 486.8 305.4 487.1 304.4 487.3 303.5 487.6 302.6 487.8 301.7 488.1 300.7 488.3 299.8 488.6 298.9 488.9 298.0 489.2 297.1 489.4 296.1 489.7 295.2 490.0 294.3 490.3 293.4 490.6 292.4 490.8 291.5 491.1 290.6 491.4 289.7 491.7 288.7 491.9 287.8 492.2 286.9 492.5 285.9 492.8 285.0 493.1 284.1 493.4 283.2 493.7 282.4 494.0 281.5 494.2 280.7 494.5 279.8 494.8 279.0 495.1 278.1 495.4 277.3 495.7 276.4 496.0 275.6 496.4 274.7 496.7 273.9 497.0 273.1 497.4 272.2 497.8 271.4 498.1 270.5 498.5 269.7 498.9 268.9 499.3 268.0 499.7 267.2 500.0 266.4 500.4 265.5 500.8 264.7 501.2 263.8 501.6 263.0 501.9 262.1 502.3 261.3 502.7 260.4 503.1 259.6 503.5 258.7 503.9 257.9 504.2 257.0 504.6 256.2 505.0 255.3 505.4 254.5 505.8 253.6 506.2 252.7 506.6 251.9 507.0 251.0 507.4 250.1 507.8 249.3 508.2 248.4 508.6 247.5 509.1 246.7 509.5 245.8 509.9 245.0 510.4 244.1 510.8 243.3 511.3 242.5 511.7 241.7 512.2 240.8 512.7 240.0 513.1 239.2 513.6 238.4 514.1 237.6 514.6 236.8 515.1 236.0 515.7 235.1 516.2 234.3 516.8 233.5 517.3 232.7 517.9 231.9 518.5 231.1 519.1 230.3 519.7 229.5 520.3 228.8 520.9 228.0 521.5 227.3 522.1 226.6 522.7 225.8 523.3 225.1 524.0 224.4 524.6 223.7 525.3 223.0 525.9 222.3 526.6 221.6 527.2 220.9 527.9 220.2 528.5 219.6 529.2 218.9 529.9 218.2 530.6 217.5 531.3 216.8 532.0 216.1 532.7 215.8 533.5 215.0 534.2 214.2 535.0 213.6 535.8 213.3 536.5 212.4 537.3 211.7 538.1 211.4 538.9 210.7 539.6 210.3 540.4 209.3 541.2 208.9 541.9 208.6 542.7 208.0 543.5 207.5 544.3 206.6 545.2 206.1 546.0 205.5 546.9 205.0 547.8 204.9 548.6 204.2 549.5 203.8 550.4 203.0 551.3 202.7 552.2 202.0 553.1 201.4 554.1 201.1 555.0 200.7 555.8 199.9 556.7 199.7 557.5 199.2 558.3 198.6 559.2 198.2 560.0 197.7 560.8 197.3 561.7 196.9 562.5 196.6 563.3 196.2 564.2 195.6 565.0 195.1 565.8 194.8 566.7 194.5 567.5 193.9 568.4 193.5 569.2 193.0 570.1 192.9 570.9 192.4 571.8 191.7 572.6 191.3 573.5 191.0 574.3 190.7 575.2 190.3 576.0 189.6 576.9 189.2 577.8 189.1 578.6 188.5 579.5 188.0 580.3 187.6 581.1 187.5 582.0 186.8 582.8 186.5 583.7 185.9 584.5 185.6 585.4 185.4 586.2 185.0 587.0 184.3 587.9 183.8 588.7 183.6 589.6 182.9 590.4 182.4 591.2 182.4 592.1 181.8 592.9 181.5 593.8 180.9 594.6 180.7 595.5 180.0 596.4 179.3 597.3 178.8 598.2 178.5 599.1 178.1 600.0 177.7 600.8 176.9 601.6 176.7 602.4 176.2 603.2 175.9 604.0 175.3 604.9 174.9 605.7 174.6 606.5 174.4 607.3 173.6 608.1 173.4 608.9 173.1 609.7 172.8 610.5 172.0 611.4 171.6 612.2 171.6 613.0 171.2 613.8 170.5 614.6 169.9 615.4 170.0 616.2 169.3 617.0 169.1 617.9 168.6 618.7 168.3 619.5 167.5 620.3 167.5 621.1 166.8" fill="none" stroke="#F14040" stroke-width="2.3" stroke-linejoin="round" stroke-linecap="butt"/>
<path d="M70.0 125.8L70.8 125.3 71.6 124.8 72.3 124.3 73.1 123.8 73.9 123.4 74.7 122.9 75.4 122.4 76.2 121.9 77.0 121.4 77.8 120.9 78.5 120.4 79.3 119.9 80.1 119.4 81.0 118.8 81.8 118.3 82.6 117.7 83.4 117.1 84.2 116.5 85.0 115.9 85.8 115.1 86.6 114.2 87.2 113.2 87.6 112.3 87.9 111.4 88.2 110.5 88.6 109.7 89.3 108.8 90.3 108.2 91.3 107.9 92.3 107.7 93.3 107.5 94.3 107.3 95.2 107.1 96.1 107.0 97.0 106.8 97.8 106.7 98.7 106.5 99.6 106.4 100.5 106.2 101.4 106.1 102.4 105.9 103.4 105.8 104.3 105.6 105.3 105.4 106.3 105.3 107.3 105.1 108.2 104.9 109.2 104.8 110.2 104.6 111.1 104.4 112.1 104.3 113.0 104.1 113.9 103.9 114.8 103.7 115.8 103.6 116.7 103.4 117.6 103.2 118.5 103.0 119.5 102.9 120.4 102.7 121.3 102.5 122.2 102.3 123.2 102.1 124.1 101.9 125.0 101.8 126.0 101.6 126.9 101.4 127.8 101.2 128.8 101.0 129.7 100.8 130.6 100.6 131.6 100.5 132.5 100.3 133.4 100.1 134.4 100.0 135.3 99.8 136.4 99.6 137.4 99.5 138.5 99.4 139.5 99.4 140.6 99.4 141.6 99.5 142.6 99.6 143.6 99.8 144.6 100.0 145.5 100.2 146.5 100.5 147.4 100.8 148.3 101.3 149.2 101.7 150.0 102.3 150.8 102.9 151.5 103.5 152.3 104.1 153.0 104.8 153.7 105.5 154.4 106.2 155.1 106.9 155.7 107.6 156.3 108.3 156.9 109.0 157.5 109.7 158.1 110.5 158.6 111.2 159.2 112.0 159.7 112.7 160.2 113.5 160.7 114.3 161.2 115.2 161.7 116.0 162.1 116.9 162.6 117.7 163.0 118.6 163.5 119.5 163.9 120.3 164.3 121.2 164.7 122.1 165.1 122.9 165.5 123.8 165.9 124.7 166.3 125.6 166.7 126.5 167.1 127.4 167.4 128.3 167.7 129.2 168.1 130.1 168.4 131.0 168.7 132.0 169.0 132.9 169.3 133.8 169.5 134.7 169.8 135.7 170.1 136.6 170.4 137.5 170.7 138.4 171.0 139.4 171.3 140.3 171.5 141.2 171.8 142.2 172.1 143.1 172.3 144.1 172.6 145.0 172.8 145.9 173.1 146.8 173.3 147.7 173.5 148.6 173.8 149.4 174.0 150.3 174.2 151.2 174.5 152.1 174.7 153.0 174.9 153.9 175.1 154.8 175.3 155.7 175.5 156.6 175.7 157.5 175.9 158.4 176.0 159.2 176.2 160.1 176.4 161.0 176.6 161.9 176.7 162.8 176.9 163.7 177.1 164.6 177.2 165.4 177.4 166.3 177.6 167.2 177.7 168.1 177.9 169.0 178.1 169.9 178.2 170.8 178.4 171.7 178.6 172.5 178.7 173.4 178.9 174.3 179.1 175.2 179.2 176.1 179.4 177.0 179.5 177.9 179.7 178.8 179.9 179.6 180.1 180.5 180.2 181.4 180.4 182.3 180.6 183.2 180.8 184.2 181.0 185.1 181.2 186.1 181.4 187.0 181.6 187.9 181.8 188.9 182.0 189.8 182.2 190.7 182.4 191.7 182.6 192.6 182.8 193.6 183.0 194.5 183.2 195.4 183.4 196.3 183.5 197.2 183.7 198.2 183.9 199.1 184.0 200.0 184.2 200.9 184.3 201.8 184.5 202.7 184.7 203.7 184.8 204.6 185.0 205.5 185.2 206.4 185.3 207.4 185.5 208.3 185.7 209.2 185.9 210.2 186.0 211.1 186.2 212.1 186.4 213.0 186.5 213.9 186.7 214.9 186.9 215.8 187.1 216.7 187.2 217.6 187.4 218.5 187.6 219.4 187.8 220.3 187.9 221.2 188.1 222.1 188.3 223.0 188.5 224.0 188.7 224.9 188.8 225.8 189.0 226.7 189.2 227.6 189.4 228.5 189.5 229.4 189.7 230.3 189.9 231.2 190.1 232.1 190.3 233.0 190.4 233.9 190.6 234.8 190.8 235.7 191.0 236.6 191.2 237.5 191.4 238.4 191.5 239.3 191.7 240.2 191.9 241.1 192.1 242.0 192.3 242.9 192.5 243.8 192.6 244.7 192.8 245.6 193.0 246.5 193.2 247.4 193.4 248.4 193.5 249.3 193.7 250.2 193.9 251.1 194.1 252.1 194.2 253.0 194.4 253.9 194.6 254.9 194.8 255.8 194.9 256.7 195.1 257.6 195.3 258.6 195.5 259.5 195.7 260.4 195.9 261.4 196.1 262.3 196.3 263.3 196.6 264.2 196.8 265.2 197.0 266.1 197.2 267.0 197.5 268.0 197.7 268.9 197.9 269.9 198.1 270.8 198.3 271.7 198.5 272.6 198.7 273.5 198.8 274.4 199.0 275.3 199.2 276.2 199.4 277.1 199.5 278.0 199.7 278.9 199.9 279.8 200.1 280.7 200.3 281.5 200.5 282.4 200.7 283.3 200.9 284.2 201.1 285.1 201.3 286.0 201.6 286.9 201.8 287.8 202.1 288.7 202.3 289.6 202.6 290.5 202.8 291.4 203.1 292.3 203.4 293.2 203.6 294.0 203.9 294.9 204.2 295.8 204.5 296.7 204.9 297.5 205.2 298.4 205.6 299.3 205.9 300.2 206.3 301.0 206.7 301.9 207.1 302.8 207.5 303.6 207.9 304.5 208.4 305.3 208.8 306.2 209.3 307.0 209.8 307.8 210.3 308.6 210.9 309.4 211.5 310.1 212.2 310.8 212.9 311.5 213.6 312.1 214.4 312.7 215.2 313.2 216.1 313.6 217.1 313.9 218.0 314.0 218.9 313.9 219.9 313.6 220.8 313.2 221.6 312.7 222.4 312.1 223.1 311.3 223.8 310.6 224.4 309.8 225.1 308.9 225.7 308.1 226.2 307.4 226.8 306.6 227.3 305.9 227.8 305.1 228.3 304.4 228.8 303.6 229.3 302.8 229.8 302.1 230.3 301.3 230.8 300.5 231.3 299.7 231.8 298.9 232.2 298.0 232.7 297.2 233.2 296.3 233.6 295.5 234.1 294.7 234.5 293.8 235.0 293.0 235.4 292.1 235.9 291.3 236.4 290.5 236.8 289.7 237.3 288.9 237.7 288.1 238.2 287.3 238.7 286.5 239.1 285.8 239.6 285.0 240.1 284.2 240.5 283.4 241.0 282.6 241.5 281.8 241.9 281.0 242.4 280.2 242.8 279.4 243.3 278.6 243.8 277.8 244.2 277.1 244.7 276.3 245.2 275.5 245.6 274.7 246.1 273.9 246.6 273.1 247.1 272.3 247.6 271.5 248.1 270.6 248.6 269.8 249.1 269.0 249.7 268.2 250.2 267.4 250.7 266.6 251.2 265.8 251.7 265.0 252.3 264.1 252.8 263.3 253.3 262.4 253.8 261.6 254.4 260.8 254.9 259.9 255.4 259.1 256.0 258.3 256.5 257.6 257.0 256.8 257.6 256.1 258.1 255.3 258.7 254.6 259.2 253.9 259.8 253.1 260.3 252.4 260.9 251.6 261.4 250.8 262.0 250.0 262.6 249.2 263.1 248.4 263.7 247.5 264.3 246.7 264.8 245.9 265.4 245.1 266.0 244.3 266.5 243.5 267.1 242.6 267.6 241.8 268.2 241.0 268.7 240.2 269.3 239.4 269.9 238.6 270.5 237.8 271.0 237.0 271.6 236.2 272.2 235.5 272.8 234.7 273.4 233.9 274.1 233.1 274.7 232.4 275.4 231.7 276.0 230.9 276.7 230.2 277.4 229.5 278.1 228.8 278.8 228.1 279.5 227.4 280.2 226.7 280.9 226.0 281.7 225.3 282.5 224.7 283.3 224.0 284.0 223.3 284.8 222.7 285.6 221.9 286.3 221.7 287.0 221.1 287.7 219.9 288.4 219.4 289.1 218.9 289.8 218.4 290.5 217.7 291.2 216.8 291.9 216.3 292.6 216.1 293.3 215.6 294.0 214.1 294.7 214.0 295.4 213.5 296.2 212.3 296.9 212.4 297.7 211.2 298.5 211.0 299.3 210.4 300.1 210.0 300.9 209.1 301.7 208.7 302.4 208.4 303.2 207.8 304.0 207.5 304.7 206.9 305.5 206.4 306.3 205.6 307.1 205.6 307.9 205.0 308.7 204.3 309.6 204.4 310.4 204.0 311.3 203.2 312.2 202.6 313.1 202.4 314.1 201.7 315.0 201.4 315.9 201.2 316.9 200.5 317.9 200.3 318.9 200.0 319.9 199.1 320.9 199.2 321.9 198.2 323.0 198.3 324.0 197.9 324.9 197.4 325.7 196.6 326.6 196.7 327.4 196.3 328.3 196.5 329.1 195.4 330.0 195.7 330.9 195.5 331.7 194.9 332.6 194.6 333.5 193.6 334.3 193.9 335.2 193.1 336.0 193.2 336.9 192.8 337.8 191.8 338.7 192.1 339.5 191.9 340.4 190.8 341.3 190.8 342.1 190.8 343.0 190.0 343.9 190.4 344.8 189.5 345.6 189.7 346.5 188.9 347.4 188.9 348.2 189.0 349.1 188.1 350.0 187.8 350.9 187.8 351.7 187.3 352.6 186.8 353.5 186.7 354.4 186.4 355.3 186.9 356.1 186.4 357.0 186.3 357.9 185.4 358.8 185.8 359.7 184.9 360.6 185.1 361.5 184.9 362.4 184.5 363.3 184.7 364.3 184.2 365.2 184.0 366.1 184.1 367.0 183.2 367.9 183.8 368.8 183.3 369.8 182.9 370.7 183.1 371.6 182.4 372.5 182.9 373.5 182.3 374.4 181.9 375.3 182.1 376.2 181.7 377.1 181.2 378.1 181.6 379.0 180.8 379.9 181.3 380.8 180.6 381.7 180.8 382.6 180.9 383.5 180.4 384.5 180.3 385.4 179.8 386.3 179.3 387.2 179.2 388.1 179.1 389.0 179.3 389.9 179.0 390.8 178.9 391.8 179.1 392.7 178.3 393.6 178.2 394.5 178.4 395.4 177.7 396.3 177.5 397.2 177.7 398.2 177.3 399.1 177.4 400.0 177.2 400.9 177.3 401.9 177.2 402.8 176.8 403.7 177.0 404.7 176.8 405.6 176.4 406.5 177.0 407.5 176.3 408.4 176.2 409.4 176.0 410.3 176.4 411.2 176.6 412.2 176.4 413.1 176.0 414.1 175.8 415.0 175.5 415.9 175.9 416.8 175.8 417.7 175.5 418.7 175.7 419.6 175.4 420.5 175.8 421.4 175.5 422.3 175.0 423.2 175.5 424.2 174.7 425.1 175.0 426.0 174.9 426.9 174.6 427.8 174.4 428.7 175.0 429.7 174.2 430.6 174.6 431.5 174.9 432.4 174.1 433.3 174.1 434.2 174.3 435.1 174.2 436.0 174.2 436.9 174.3 437.8 173.7 438.7 173.7 439.6 173.6 440.5 173.3 441.4 174.0 442.3 173.8 443.2 173.7 444.2 173.0 445.1 173.7 446.0 173.5 446.9 173.2 447.8 173.3 448.7 173.0 449.6 172.7 450.5 172.5 451.4 172.6 452.3 172.3 453.2 172.5 454.1 172.8 455.0 172.7 455.9 172.7 456.8 172.5 457.8 172.0 458.7 172.1 459.7 171.9 460.6 172.1 461.5 171.7 462.5 171.4 463.4 171.6 464.3 171.8 465.3 171.0 466.2 171.5 467.2 170.6 468.1 170.8 469.0 170.7 469.9 171.1 470.8 171.3 471.8 171.1 472.7 170.7 473.6 171.2 474.5 170.7 475.4 170.7 476.3 171.3 477.3 171.0 478.2 171.1 479.1 171.1 480.0 171.3 481.0 170.9 482.0 171.2 483.0 171.0 484.0 171.1 485.0 170.6 485.9 170.8 486.8 170.5 487.7 170.1 488.6 169.8 489.5 170.0 490.4 169.3 491.2 169.9 492.1 169.0 493.0 168.7 493.9 168.6 494.8 169.1 495.7 168.4 496.6 168.1 497.5 167.9 498.4 167.8 499.3 168.2 500.2 168.1 501.1 168.0 502.0 167.9 502.9 167.2 503.8 167.6 504.7 167.2 505.6 167.5 506.6 167.4 507.5 167.4 508.4 166.6 509.3 167.2 510.2 167.1 511.1 167.0 512.0 166.2 512.9 166.2 513.8 166.0 514.7 165.8 515.6 166.5 516.5 166.3 517.5 166.1 518.4 166.1 519.3 165.9 520.2 165.4 521.1 165.2 522.0 165.1 522.9 165.5 523.8 164.9 524.7 164.9 525.6 164.9 526.5 164.4 527.4 164.5 528.3 164.4 529.2 164.7 530.2 164.3 531.1 164.1 532.0 164.6 532.9 164.0 533.8 164.2 534.7 163.9 535.6 163.2 536.5 163.5 537.4 163.4 538.3 163.5 539.2 163.0 540.1 163.2 541.0 163.0 541.9 162.5 542.8 163.0 543.8 162.2 544.7 162.7 545.6 162.0 546.5 161.7 547.4 161.8 548.3 162.2 549.2 162.3 550.1 161.3 551.0 161.6 551.9 161.4 552.8 161.6 553.7 160.9 554.6 161.1 555.5 160.8 556.4 161.1 557.4 160.5 558.3 161.0 559.2 160.3 560.1 160.1 561.0 160.4 561.9 160.1 562.8 159.6 563.7 160.0 564.6 159.3 565.5 159.9 566.4 159.7 567.3 159.6 568.2 159.4 569.1 159.0 570.0 158.9 571.0 158.8 571.9 159.1 572.8 158.3 573.7 158.9 574.6 158.0 575.5 158.0 576.4 158.0 577.3 158.5 578.2 158.0 579.1 157.8 580.0 158.1 581.0 157.4 581.9 157.5 582.8 157.4 583.7 157.5 584.6 157.4 585.5 157.2 586.4 156.9 587.4 156.7 588.3 156.5 589.2 157.0 590.1 156.7 591.0 156.7 591.9 156.1 592.8 156.3 593.8 156.5 594.7 156.3 595.6 155.8 596.5 156.1 597.4 156.4 598.4 155.8 599.3 155.7 600.3 155.8 601.2 156.2 602.2 156.3 603.1 155.8 604.1 155.8 605.0 155.9 606.0 156.0 606.9 156.3 607.9 156.0 608.8 156.2 609.8 156.2 610.8 157.1 611.8 157.1 612.8 156.8 613.8 157.7 614.8 157.1 615.8 157.5 616.9 158.1 617.9 157.8 619.0 157.7 620.0 157.3 621.1 157.0" fill="none" stroke="#1A6FDF" stroke-width="2.3" stroke-linejoin="round" stroke-linecap="butt"/>
<path d="M70.0 120.1L70.9 120.1 71.9 120.0 72.8 120.0 73.7 119.9 74.6 119.9 75.6 119.9 76.5 119.8 77.4 119.8 78.4 119.7 79.3 119.7 80.3 119.7 81.3 119.6 82.2 119.6 83.2 119.6 84.2 119.5 85.2 119.5 86.1 119.5 87.1 119.4 88.1 119.4 89.1 119.3 90.2 119.3 91.2 119.4 92.3 120.0 93.4 120.7 94.3 121.1 95.2 121.5 96.1 121.8 97.0 122.1 98.0 122.3 98.9 122.6 99.9 122.8 100.9 123.1 101.9 122.9 102.8 123.2 103.8 123.5 104.8 123.4 105.8 123.8 106.7 124.3 107.6 124.3 108.5 124.4 109.4 124.6 110.3 124.6 111.2 124.6 112.1 125.0 113.0 125.0 113.9 125.4 114.8 125.7 115.6 125.5 116.5 125.8 117.4 126.0 118.3 125.9 119.2 125.9 120.1 126.4 121.0 126.7 121.9 126.8 122.8 126.8 123.7 127.1 124.6 127.1 125.5 127.2 126.4 127.2 127.3 127.3 128.2 127.6 129.1 127.4 130.0 127.7 130.9 128.1 131.8 128.2 132.7 128.3 133.6 128.2 134.5 128.4 135.5 128.6 136.4 128.8 137.3 128.8 138.2 129.1 139.1 129.4 140.0 129.0 140.9 129.5 141.8 129.7 142.7 129.5 143.6 129.7 144.6 130.2 145.5 129.7 146.4 130.1 147.3 130.0 148.2 130.6 149.1 130.8 150.0 130.6 150.9 130.4 151.8 130.9 152.8 131.0 153.7 131.2 154.6 131.2 155.5 131.4 156.4 131.6 157.3 131.5 158.3 131.6 159.2 132.0 160.1 131.6 161.0 132.1 162.0 131.9 162.9 132.3 163.8 131.9 164.8 132.6 165.7 132.3 166.6 132.2 167.6 132.4 168.5 132.6 169.4 132.4 170.3 132.8 171.3 132.9 172.2 133.2 173.1 133.0 174.1 133.0 175.0 133.1 175.9 133.6 176.9 133.8 177.8 133.6 178.7 133.5 179.7 134.0 180.6 133.9 181.5 133.8 182.5 133.9 183.4 134.4 184.4 134.6 185.3 134.6 186.2 134.6 187.2 134.7 188.1 134.6 189.0 135.2 190.0 134.9 190.9 135.2 191.8 135.4 192.7 135.5 193.6 135.4 194.5 135.3 195.4 135.6 196.3 135.4 197.2 136.0 198.1 135.8 199.0 136.2 200.0 135.9 200.9 136.1 201.8 136.1 202.7 136.3 203.6 136.2 204.5 136.2 205.4 136.8 206.3 136.6 207.2 136.6 208.1 136.8 209.0 137.0 209.9 137.0 210.8 137.3 211.7 137.4 212.6 137.3 213.5 137.8 214.4 137.8 215.4 137.3 216.3 138.0 217.2 138.1 218.1 138.1 219.0 137.8 219.9 138.4 220.8 138.3 221.7 138.0 222.6 138.1 223.5 138.8 224.4 138.7 225.3 138.5 226.2 138.5 227.1 138.6 228.0 138.8 228.9 139.2 229.8 139.0 230.7 139.0 231.6 139.6 232.5 139.6 233.4 139.3 234.3 139.9 235.2 139.8 236.1 140.0 237.0 140.0 237.9 140.3 238.8 140.3 239.6 140.4 240.5 140.1 241.4 140.5 242.3 140.5 243.2 140.7 244.1 140.6 245.0 141.0 245.9 140.9 246.8 140.8 247.7 140.8 248.6 140.9 249.5 141.2 250.4 141.0 251.3 141.4 252.2 141.2 253.1 141.6 254.0 141.6 254.9 141.8 255.8 142.1 256.7 141.6 257.6 142.2 258.5 142.1 259.4 142.2 260.3 142.4 261.2 142.6 262.1 142.3 263.0 142.4 263.9 142.9 264.8 142.4 265.7 142.8 266.6 142.9 267.5 142.6 268.4 143.1 269.3 143.2 270.2 143.4 271.1 143.1 272.0 143.6 272.9 143.4 273.8 143.4 274.7 143.8 275.6 143.3 276.5 143.8 277.4 143.8 278.3 143.7 279.2 144.2 280.1 143.9 281.0 144.0 281.9 144.2 282.8 144.4 283.7 144.1 284.6 144.3 285.5 144.4 286.4 144.6 287.3 144.9 288.2 144.6 289.1 145.0 290.0 144.8 290.9 145.0 291.8 144.9 292.7 145.2 293.6 145.6 294.5 145.5 295.4 145.7 296.3 145.5 297.3 145.6 298.2 145.7 299.1 146.0 300.0 146.2 300.9 146.4 301.8 146.0 302.7 146.6 303.6 146.8 304.5 146.7 305.4 146.5 306.3 146.8 307.2 146.7 308.1 146.9 309.0 147.6 309.9 147.5 310.8 147.6 311.7 147.9 312.7 148.1 313.6 148.0 314.5 148.1 315.4 148.3 316.3 148.5 317.2 148.5 318.1 148.7 319.0 148.5 319.9 149.0 320.8 149.0 321.7 149.3 322.6 149.0 323.5 149.2 324.4 149.2 325.3 149.9 326.2 150.1 327.2 150.1 328.1 150.0 329.0 150.4 329.9 150.5 330.8 150.5 331.7 150.4 332.6 150.6 333.5 150.8 334.4 150.8 335.3 151.0 336.2 151.3 337.1 151.6 338.0 151.1 338.9 151.6 339.8 151.3 340.7 151.5 341.6 152.1 342.5 152.1 343.4 152.4 344.3 152.2 345.2 152.0 346.1 152.4 347.0 152.7 347.9 153.0 348.8 153.2 349.8 152.9 350.7 153.0 351.6 152.9 352.5 153.3 353.4 153.1 354.3 153.2 355.2 153.2 356.1 153.3 357.0 153.9 357.9 153.5 358.8 154.2 359.7 153.7 360.7 154.3 361.6 153.9 362.5 153.9 363.4 154.5 364.4 154.2 365.3 154.6 366.2 154.3 367.2 154.2 368.1 154.8 369.0 154.8 370.0 154.9 370.9 154.8 371.8 154.4 372.8 154.8 373.7 154.9 374.6 154.7 375.8 154.9 376.9 154.0 378.0 154.0 378.9 153.2 379.8 151.9 380.5 151.0 381.1 150.4 381.7 149.5 382.3 148.0 383.8 147.3 384.8 147.9 385.9 148.0 387.0 149.0 388.0 149.0 388.9 149.0 389.9 149.5 390.9 149.9 391.8 150.1 392.8 150.5 393.7 150.4 394.7 151.1 395.6 151.0 396.5 151.4 397.5 151.6 398.4 151.7 399.3 151.9 400.3 152.4 401.2 152.7 402.2 152.8 403.1 152.8 404.1 152.8 405.0 152.8 405.9 153.6 406.8 153.5 407.8 153.8 408.7 153.5 409.6 153.8 410.6 154.2 411.5 154.2 412.4 154.1 413.3 153.9 414.3 154.0 415.2 154.4 416.1 154.0 417.1 154.2 418.0 154.1 418.9 154.2 419.8 154.0 420.8 153.6 421.7 153.2 422.6 153.3 423.6 153.3 424.5 153.3 425.4 153.3 426.3 153.2 427.3 152.5 428.2 152.9 429.1 152.7 430.1 152.6 431.0 152.2 432.0 151.8 432.9 152.1 433.8 151.9 434.8 151.7 435.7 151.7 436.6 151.2 437.5 150.9 438.4 151.1 439.3 151.1 440.2 150.6 441.1 150.9 442.0 151.0 442.9 150.4 443.8 150.7 444.8 150.7 445.9 150.7 446.9 150.6 447.9 150.9 448.9 151.5 449.8 151.8 450.6 152.1 451.4 152.6 452.2 153.1 453.0 153.6 453.8 154.2 454.5 154.8 455.2 155.4 455.9 156.0 456.6 156.6 457.3 157.2 458.0 157.7 458.7 158.3 459.4 158.9 460.0 159.6 460.6 160.3 461.1 161.0 461.6 161.8 462.1 162.6 462.6 163.3 463.1 164.1 463.5 164.9 464.0 165.7 464.5 166.6 465.0 167.5 465.5 168.3 465.9 169.2 466.4 170.1 466.8 171.1 467.2 172.0 467.6 172.9 468.0 173.8 468.3 174.7 468.6 175.6 468.9 176.5 469.3 177.5 469.6 178.4 469.8 179.3 470.1 180.2 470.4 181.2 470.7 182.1 471.0 183.0 471.3 184.0 471.5 184.9 471.8 185.8 472.0 186.8 472.3 187.7 472.6 188.6 472.8 189.6 473.1 190.5 473.3 191.4 473.6 192.4 473.8 193.3 474.0 194.2 474.3 195.1 474.5 196.1 474.7 197.0 475.0 197.9 475.2 198.9 475.4 199.8 475.6 200.7 475.9 201.6 476.1 202.6 476.3 203.5 476.5 204.4 476.8 205.4 477.0 206.3 477.2 207.3 477.4 208.2 477.7 209.2 477.9 210.1 478.1 211.1 478.3 212.0 478.5 213.0 478.7 213.9 478.8 214.8 479.0 215.7 479.2 216.6 479.4 217.5 479.5 218.4 479.7 219.3 479.8 220.1 480.0 221.0 480.2 221.9 480.3 222.8 480.5 223.7 480.6 224.6 480.8 225.5 481.0 226.4 481.1 227.3 481.3 228.2 481.4 229.1 481.6 230.0 481.7 230.9 481.8 231.8 482.0 232.7 482.1 233.6 482.3 234.5 482.4 235.4 482.6 236.2 482.7 237.1 482.8 238.0 483.0 238.9 483.1 239.8 483.2 240.7 483.4 241.6 483.5 242.5 483.6 243.4 483.8 244.3 483.9 245.2 484.0 246.0 484.1 246.9 484.3 247.8 484.4 248.7 484.5 249.6 484.7 250.5 484.8 251.4 484.9 252.3 485.1 253.2 485.2 254.1 485.3 255.0 485.5 255.9 485.6 256.9 485.7 257.8 485.9 258.7 486.0 259.6 486.1 260.5 486.2 261.4 486.4 262.3 486.5 263.2 486.6 264.1 486.7 265.0 486.9 265.9 487.0 266.9 487.1 267.8 487.3 268.7 487.4 269.6 487.5 270.5 487.6 271.4 487.8 272.4 487.9 273.3 488.0 274.2 488.1 275.2 488.2 276.1 488.4 277.0 488.5 278.0 488.6 278.9 488.7 279.8 488.8 280.8 488.9 281.7 489.1 282.6 489.2 283.6 489.3 284.5 489.4 285.4 489.5 286.4 489.7 287.3 489.8 288.2 489.9 289.2 490.0 290.1 490.1 291.1 490.3 292.0 490.4 292.9 490.5 293.9 490.6 294.8 490.7 295.7 490.9 296.7 491.0 297.6 491.1 298.6 491.2 299.5 491.3 300.4 491.4 301.3 491.5 302.3 491.6 303.2 491.7 304.1 491.8 305.0 491.9 306.0 492.0 306.9 492.1 307.8 492.3 308.7 492.4 309.7 492.5 310.6 492.6 311.5 492.7 312.4 492.8 313.3 493.0 314.2 493.1 315.1 493.2 316.0 493.4 316.9 493.5 317.8 493.6 318.7 493.8 319.5 493.9 320.4 494.0 321.3 494.2 322.2 494.3 323.1 494.4 324.0 494.6 324.9 494.7 325.8 494.8 326.7 495.0 327.6 495.1 328.6 495.2 329.5 495.4 330.4 495.5 331.3 495.7 332.2 495.8 333.1 495.9 334.1 496.1 335.0 496.2 335.9 496.4 336.8 496.5 337.7 496.6 338.7 496.8 339.6 496.9 340.5 497.0 341.4 497.2 342.4 497.3 343.3 497.4 344.2 497.6 345.2 497.7 346.1 497.8 347.0 498.0 348.0 498.1 348.9 498.2 349.8 498.4 350.8 498.5 351.7 498.6 352.6 498.8 353.6 498.9 354.5 499.0 355.4 499.2 356.4 499.3 357.3 499.4 358.2 499.6 359.1 499.7 360.1 499.9 361.0 500.0 361.9 500.1 362.9 500.3 363.8 500.4 364.7 500.6 365.6 500.7 366.6 500.9 367.5 501.1 368.4 501.2 369.3 501.4 370.3 501.5 371.2 501.7 372.1 501.8 373.0 502.0 374.0 502.2 374.9 502.3 375.8 502.5 376.7 502.7 377.7 502.9 378.6 503.1 379.5 503.3 380.4 503.5 381.3 503.7 382.2 504.0 383.2 504.3 384.1 504.6 385.0 504.9 386.0 505.2 386.9 505.5 387.8 505.9 388.7 506.2 389.6 506.6 390.5 507.0 391.4 507.4 392.3 507.9 393.1 508.4 394.0 509.0 394.8 509.6 395.5 510.4 396.3 511.3 397.0 512.3 397.6 513.2 397.8 514.0 397.6 514.8 397.0 515.6 396.3 516.3 395.5 516.9 394.7 517.4 393.9 518.0 393.1 518.4 392.3 518.9 391.4 519.3 390.5 519.7 389.6 520.1 388.7 520.4 387.8 520.8 386.9 521.1 386.0 521.4 385.1 521.8 384.1 522.1 383.2 522.4 382.3 522.7 381.4 523.0 380.5 523.4 379.6 523.7 378.6 524.0 377.7 524.3 376.8 524.6 375.9 524.9 374.9 525.2 374.0 525.5 373.1 525.8 372.2 526.1 371.3 526.3 370.3 526.6 369.4 526.9 368.5 527.2 367.5 527.4 366.6 527.7 365.7 528.0 364.8 528.2 363.8 528.5 362.9 528.8 362.0 529.0 361.1 529.3 360.2 529.5 359.3 529.8 358.4 530.1 357.5 530.3 356.6 530.6 355.7 530.8 354.8 531.1 353.9 531.3 353.0 531.5 352.1 531.8 351.2 532.0 350.3 532.3 349.4 532.5 348.4 532.7 347.5 533.0 346.6 533.2 345.7 533.4 344.8 533.7 343.9 533.9 343.0 534.1 342.1 534.4 341.1 534.6 340.2 534.8 339.3 535.1 338.4 535.3 337.5 535.5 336.6 535.8 335.7 536.0 334.8 536.3 333.8 536.5 332.9 536.7 332.0 537.0 331.1 537.2 330.2 537.4 329.3 537.7 328.4 537.9 327.5 538.2 326.6 538.4 325.6 538.7 324.7 538.9 323.8 539.1 322.9 539.4 322.0 539.6 321.1 539.9 320.2 540.1 319.3 540.4 318.5 540.6 317.6 540.9 316.7 541.1 315.8 541.4 314.9 541.6 314.0 541.9 313.2 542.2 312.3 542.4 311.4 542.7 310.5 543.0 309.7 543.2 308.8 543.5 307.9 543.8 307.0 544.1 306.1 544.4 305.1 544.7 304.2 545.0 303.3 545.3 302.4 545.6 301.5 546.0 300.6 546.3 299.6 546.6 298.7 546.9 297.8 547.3 296.9 547.6 296.0 547.9 295.1 548.3 294.2 548.6 293.3 548.9 292.4 549.3 291.5 549.6 290.6 549.9 289.7 550.3 288.9 550.6 288.0 551.0 287.1 551.3 286.2 551.6 285.3 552.0 284.4 552.3 283.5 552.6 282.6 552.9 281.7 553.3 280.8 553.6 280.0 553.9 279.1 554.2 278.2 554.5 277.3 554.8 276.4 555.1 275.5 555.4 274.6 555.8 273.8 556.1 272.9 556.4 272.0 556.7 271.1 557.0 270.2 557.4 269.4 557.7 268.5 558.0 267.6 558.3 266.7 558.7 265.8 559.0 265.0 559.3 264.1 559.7 263.2 560.0 262.3 560.4 261.1 560.8 260.9 561.2 260.0 561.6 258.6 562.0 258.1 562.4 257.6 562.8 256.7 563.2 255.5 563.6 254.6 564.1 253.8 564.5 252.6 564.9 251.8 565.4 251.0 565.8 250.7 566.3 249.5 566.7 248.9 567.2 248.0 567.6 247.3 568.1 246.1 568.6 245.2 569.1 245.4 569.6 244.0 570.1 243.0 570.6 242.7 571.2 242.1 571.7 240.7 572.2 240.4 572.7 239.3 573.2 238.7 573.7 237.5 574.2 236.7 574.7 236.9 575.2 235.9 575.7 234.8 576.2 234.1 576.7 232.9 577.2 232.6 577.7 231.4 578.2 231.1 578.8 230.1 579.3 229.3 579.9 228.6 580.6 227.0 581.2 225.9 581.9 225.2 582.5 224.4 583.1 223.5 583.7 222.6 584.3 222.3 584.9 221.8 585.4 220.6 585.8 220.2 586.2 219.3 586.6 217.7 587.0 217.4 587.5 216.4 588.0 215.4 588.8 215.6 589.8 214.5 590.7 214.4 591.6 214.0 592.2 213.9 592.9 212.6 593.4 211.4 594.0 210.8 594.6 209.5 595.1 210.2 595.7 209.5 596.3 207.4 596.9 206.3 597.5 206.0 598.1 205.5 598.7 205.7 599.3 204.8 599.8 203.8 600.3 201.4 600.8 201.8 601.3 200.8 601.8 199.8 602.2 199.6 602.7 197.1 603.3 196.8 604.6 198.2 605.9 198.9 606.5 197.8 607.0 196.2 607.4 195.8 607.9 195.3 608.4 193.6 609.0 194.3 609.8 195.1 610.5 195.3 611.2 195.6 611.9 194.5 612.6 193.8 613.3 192.9 614.0 193.1 614.7 191.1 615.3 191.6 616.1 190.0 617.1 189.0 618.2 190.1 619.2 188.7 620.0 190.8 620.7 191.9" fill="none" stroke="#37AD6B" stroke-width="2.3" stroke-linejoin="round" stroke-linecap="butt"/>
<g stroke="#000" stroke-width="1.8" fill="none" stroke-linecap="square">
<path d="M70.1 40V511.0H654.7"/>
</g>
<g stroke="#000" stroke-width="1.8" fill="none">
<path d="M61.5 511.0H70.1"/>
<path d="M66 463.9H70.1"/>
<path d="M61.5 416.8H70.1"/>
<path d="M66 369.7H70.1"/>
<path d="M61.5 322.6H70.1"/>
<path d="M66 275.5H70.1"/>
<path d="M61.5 228.4H70.1"/>
<path d="M66 181.3H70.1"/>
<path d="M61.5 134.2H70.1"/>
<path d="M66 87.1H70.1"/>
<path d="M61.5 40.0H70.1"/>
<path d="M70.1 511.0V519.5"/>
<path d="M106.6 511.0V515.5"/>
<path d="M143.2 511.0V519.5"/>
<path d="M179.7 511.0V515.5"/>
<path d="M216.2 511.0V519.5"/>
<path d="M252.8 511.0V515.5"/>
<path d="M289.3 511.0V519.5"/>
<path d="M325.9 511.0V515.5"/>
<path d="M362.4 511.0V519.5"/>
<path d="M398.9 511.0V515.5"/>
<path d="M435.5 511.0V519.5"/>
<path d="M472.0 511.0V515.5"/>
<path d="M508.5 511.0V519.5"/>
<path d="M545.1 511.0V515.5"/>
<path d="M581.6 511.0V519.5"/>
<path d="M618.2 511.0V515.5"/>
<path d="M654.7 511.0V519.5"/>
</g>
<g font-size="19.4" letter-spacing="0.4">
<text x="54.9" y="517.2" text-anchor="end">0.0</text>
<text x="54.9" y="423.0" text-anchor="end">0.2</text>
<text x="54.9" y="328.8" text-anchor="end">0.4</text>
<text x="54.9" y="234.6" text-anchor="end">0.6</text>
<text x="54.9" y="140.4" text-anchor="end">0.8</text>
<text x="54.9" y="46.2" text-anchor="end">1.0</text>
<text x="70.3" y="541.8" text-anchor="middle">40</text>
<text x="143.4" y="541.8" text-anchor="middle">45</text>
<text x="216.4" y="541.8" text-anchor="middle">50</text>
<text x="289.5" y="541.8" text-anchor="middle">55</text>
<text x="362.6" y="541.8" text-anchor="middle">60</text>
<text x="435.7" y="541.8" text-anchor="middle">65</text>
<text x="508.7" y="541.8" text-anchor="middle">70</text>
<text x="581.8" y="541.8" text-anchor="middle">75</text>
<text x="654.9" y="541.8" text-anchor="middle">80</text>
</g>
<text x="282.2" y="582" font-size="25.5" letter-spacing="0.5" word-spacing="1">Angle (degree)</text>
<text transform="translate(18.7 350) rotate(-90)" font-size="25" letter-spacing="0.4">Intensity <tspan letter-spacing="1.2">(a.u)</tspan></text>
<rect x="438.6" y="0.5" width="245.8" height="131.8" fill="#fff" stroke="#636363" stroke-width="1.1"/>
<path d="M442.4 18.7H500.4" stroke="#515151" stroke-width="2.3" stroke-linecap="round"/>
<text x="507.5" y="26.5" font-size="25.2" letter-spacing="0.36">Air (Au)</text>
<path d="M442.4 50.6H500.4" stroke="#F14040" stroke-width="2.3" stroke-linecap="round"/>
<text x="507.5" y="58.4" font-size="25.2" letter-spacing="0.36">PBS (Au)</text>
<path d="M442.4 82.7H500.4" stroke="#1A6FDF" stroke-width="2.3" stroke-linecap="round"/>
<text x="507.5" y="90.5" font-size="25.2" letter-spacing="0.36">Air (Au-ppHA)</text>
<path d="M442.4 114.4H500.4" stroke="#37AD6B" stroke-width="2.3" stroke-linecap="round"/>
<text x="507.5" y="122.2" font-size="25.2" letter-spacing="0.36">PBS (Au-ppHA)</text>
<rect x="187.4" y="364.1" width="64.2" height="37.5" fill="#FBC1F6"/>
<text x="191" y="392.6" font-size="27.6">n = 1</text>
<rect x="489" y="417.8" width="126.1" height="37.9" fill="#FBC1F6"/>
<text x="492.5" y="446.3" font-size="27.6">n = 1.3311</text>
<g stroke="#2a2a2a" stroke-width="0.8" fill="none">
<path d="M187.4 383.4H122"/><path d="M218.4 364.1V325"/><path d="M489 436.4H477"/><path d="M514.1 417.8V408"/>
</g>
<g fill="#000">
<path d="M111.8 383.4L124.8 380.2V386.6Z"/>
<path d="M218.4 315L221.6 326.4H215.2Z"/>
<path d="M466 436.4L478.8 433.4V439.4Z"/>
<path d="M514.1 399L517.1 409.9H511.1Z"/>
</g>
</svg></body></html>
